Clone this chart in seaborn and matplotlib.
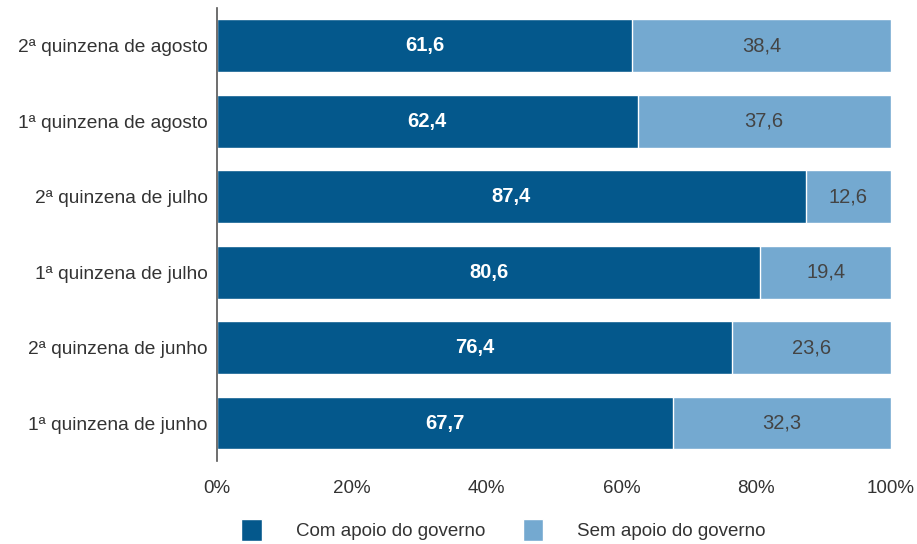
import seaborn as sns
import matplotlib.pyplot as plt
import pandas as pd

periodos = ["2ª quinzena de agosto", "1ª quinzena de agosto", "2ª quinzena de julho",
            "1ª quinzena de julho", "2ª quinzena de junho", "1ª quinzena de junho"]
com_apoio = [61.6, 62.4, 87.4, 80.6, 76.4, 67.7]
sem_apoio = [38.4, 37.6, 12.6, 19.4, 23.6, 32.3]
ticks = [0, 20, 40, 60, 80, 100]

cor_com = "#04588c"
cor_sem = "#74a9d0"

df = pd.DataFrame({"Período": periodos, "Com": com_apoio, "Sem": sem_apoio})
df["Total"] = df["Com"] + df["Sem"]

sns.set_style("white")
plt.rcParams['font.family'] = ['Liberation Sans', 'DejaVu Sans']

fig = plt.figure(figsize=(9.17, 5.44), dpi=100)
ax = fig.add_axes([0.2366, 0.153, 0.735, 0.832])

# barras empilhadas: total (sem apoio) por baixo, com apoio por cima
sns.barplot(data=df, y="Período", x="Total", color=cor_sem, orient="h",
            width=0.7, ax=ax, saturation=1, label="Sem apoio do governo")
sns.barplot(data=df, y="Período", x="Com", color=cor_com, orient="h",
            width=0.7, ax=ax, saturation=1, label="Com apoio do governo")
handles, labels = ax.get_legend_handles_labels()
if ax.legend_ is not None:
    ax.legend_.remove()

for i, (c, s) in enumerate(zip(com_apoio, sem_apoio)):
    ax.text(c / 2, i, f"{c:.1f}".replace(".", ","), ha="center", va="center",
            color="white", fontsize=14.5, fontweight="bold")
    ax.text(c + s / 2, i, f"{s:.1f}".replace(".", ","), ha="center", va="center",
            color="#444444", fontsize=14.5)

ax.set_xlim(0, 100)
ax.set_ylim(5.5, -0.5)
ax.set_xticks(ticks)
ax.set_xticklabels([f"{t}%" for t in ticks], fontsize=13.5, color="#333333")
ax.tick_params(axis="y", labelsize=13.8, colors="#333333", length=0, pad=6.5)
ax.tick_params(axis="x", length=0, pad=14)
ax.set_xlabel("")
ax.set_ylabel("")
for s in ["top", "right", "bottom"]:
    ax.spines[s].set_visible(False)
ax.spines["left"].set_color("#555555")
ax.spines["left"].set_linewidth(1.2)

order = [labels.index("Com apoio do governo"), labels.index("Sem apoio do governo")]
leg = fig.legend([handles[k] for k in order], [labels[k] for k in order],
                 loc="lower center", bbox_to_anchor=(0.549, -0.025), ncol=2,
                 frameon=False, fontsize=13.5, handlelength=1.1, handleheight=1.4,
                 columnspacing=2.0, handletextpad=1.8)
for t in leg.get_texts():
    t.set_color("#333333")

fig.savefig("out.png", dpi=100)
